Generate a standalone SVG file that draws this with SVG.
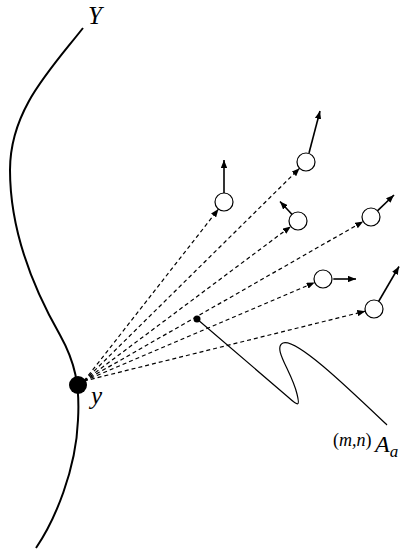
<svg xmlns="http://www.w3.org/2000/svg" width="410" height="552" viewBox="0 0 410 552">
<style>
.dash{stroke:#000;stroke-width:1.2;stroke-dasharray:4,3;fill:none}
.arr{stroke:#000;stroke-width:1.6;fill:none}
.pt{fill:#fff;stroke:#000;stroke-width:1.2}
.lbl{font-family:"Liberation Serif",serif;font-style:italic;fill:#000}
</style>
<defs>
<marker id="ah" viewBox="0 0 10 8" refX="10" refY="4" markerWidth="8" markerHeight="6.4" markerUnits="userSpaceOnUse" orient="auto"><path d="M0,0 L10,4 L0,8 Z" fill="#000"/></marker>
</defs>
<rect width="410" height="552" fill="#fff"/>
<g id="curve-Y">
<path d="M83,28 C 50,70 10,110 10,170 C 10,240 40,300 60,335 C 75,362 80,385 78,420 C 76,470 55,520 36,548" fill="none" stroke="#000" stroke-width="2"/>
<text class="lbl" x="88" y="24" font-size="25">Y</text>
</g>
<g id="connectors">
<line class="dash" x1="84" y1="381" x2="218.5" y2="209.1" marker-end="url(#ah)"/>
<line class="dash" x1="84" y1="381" x2="299.6" y2="168.3" marker-end="url(#ah)"/>
<line class="dash" x1="84" y1="381" x2="290.8" y2="226.4" marker-end="url(#ah)"/>
<line class="dash" x1="84" y1="381" x2="363.2" y2="221.5" marker-end="url(#ah)"/>
<line class="dash" x1="84" y1="381" x2="314.7" y2="282.5" marker-end="url(#ah)"/>
<line class="dash" x1="84" y1="381" x2="365.3" y2="311.2" marker-end="url(#ah)"/>
<line class="arr" x1="224" y1="193" x2="224" y2="160" marker-end="url(#ah)"/>
<line class="arr" x1="309" y1="153" x2="320" y2="111" marker-end="url(#ah)"/>
<line class="arr" x1="292.8" y1="215.2" x2="280" y2="201.5" marker-end="url(#ah)"/>
<line class="arr" x1="377.4" y1="210.9" x2="394" y2="195" marker-end="url(#ah)"/>
<line class="arr" x1="333.3" y1="279" x2="356" y2="279" marker-end="url(#ah)"/>
<line class="arr" x1="378.6" y1="301.5" x2="399" y2="266.5" marker-end="url(#ah)"/>
<path d="M197,319 L288,397 C 299,407 300,406 297,394 C 292,372 272,348 283,343 C 296,338 345,385 387,425" fill="none" stroke="#000" stroke-width="1.2"/>
</g>
<g id="node-y">
<circle cx="78" cy="385" r="9" fill="#000"/>
<text class="lbl" x="91" y="404" font-size="25">y</text>
</g>
<g id="node-A">
<circle cx="197" cy="319" r="3.5" fill="#000"/>
<text class="lbl" x="333" y="446" font-size="18"><tspan font-style="normal">(</tspan>m,n<tspan font-style="normal">)</tspan></text>
<text class="lbl" x="375" y="452" font-size="24">A<tspan font-size="17" dy="5">a</tspan></text>
</g>
<g id="points">
<circle class="pt" cx="224" cy="202" r="9"/>
<circle class="pt" cx="306" cy="162" r="9"/>
<circle class="pt" cx="298" cy="221" r="9"/>
<circle class="pt" cx="371" cy="217" r="9"/>
<circle class="pt" cx="323" cy="279" r="9"/>
<circle class="pt" cx="374" cy="309" r="9"/>
</g>
</svg>
